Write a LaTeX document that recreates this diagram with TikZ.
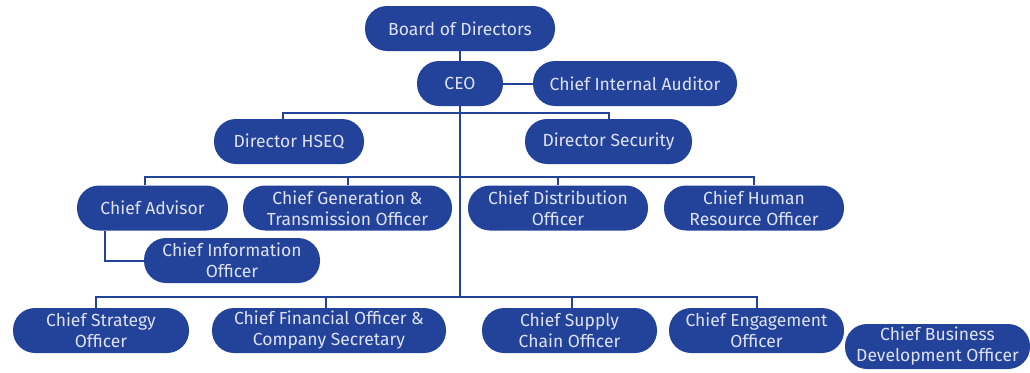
\documentclass[tikz,border=0pt]{standalone}
\usepackage{fontspec}
\setmainfont{Fira Sans}
\usetikzlibrary{positioning}
\definecolor{orgblue}{RGB}{35, 67, 155}
\definecolor{orgtext}{RGB}{222, 226, 240}
\tikzset{
  unit/.style={fill=orgblue, text=orgtext, rounded corners=22pt, minimum height=45pt,
    inner sep=0pt, align=center, font=\fontsize{17.5}{21}\selectfont},
  link/.style={draw=orgblue, line width=2pt}
}
\begin{document}
\begin{tikzpicture}[x=1pt,y=-1pt]
  \useasboundingbox (0,0) rectangle (1030,372);
  % top levels
  \node[unit,minimum width=190pt] (board) at (460,28.5) {Board of Directors};
  \node[unit,minimum width=86pt]  (ceo)   at (460,83.5) {CEO};
  \node[unit,minimum width=204pt] (audit) at (635,83.5) {Chief Internal Auditor};
  \node[unit,minimum width=150pt] (hseq)  at (289,141.5) {Director HSEQ};
  \node[unit,minimum width=167pt] (secur) at (608.5,141.5) {Director Security};
  % third row
  \node[unit,minimum width=151pt] (advis) at (152.5,208) {Chief Advisor};
  \node[unit,minimum width=209pt] (gener) at (347.5,208) {Chief Generation \&\\Transmission Officer};
  \node[unit,minimum width=180pt] (distr) at (558,208) {Chief Distribution\\Officer};
  \node[unit,minimum width=180pt] (human) at (754,208) {Chief Human\\Resource Officer};
  \node[unit,minimum width=176pt] (info)  at (232,260.5) {Chief Information\\Officer};
  % bottom row
  \node[unit,minimum width=176pt] (strat) at (101,330.5) {Chief Strategy\\Officer};
  \node[unit,minimum width=234pt] (finan) at (329,330.5) {Chief Financial Officer \&\\Company Secretary};
  \node[unit,minimum width=175pt] (suppl) at (569.5,330.5) {Chief Supply\\Chain Officer};
  \node[unit,minimum width=175pt] (engag) at (756.5,330.5) {Chief Engagement\\Officer};
  \node[unit,minimum width=185pt] (busin) at (937.5,346.5) {Chief Business\\Development Officer};
  % bus points
  \coordinate (busA) at (460,113);
  \coordinate (busB) at (460,177);
  \coordinate (busC) at (460,297);
  % connectors
  \draw[link] (board) -- (ceo);
  \draw[link] (ceo) -- (audit);
  \draw[link] (ceo.south) -- (busC);
  \draw[link] ([xshift=-6pt]hseq.north) |- (busA) -| (secur.north);
  \draw[link] ([xshift=-8pt]advis.north) |- (busB) -| (human.north);
  \draw[link] (gener.north) -- (gener.north |- busB);
  \draw[link] (distr.north) -- (distr.north |- busB);
  \draw[link] ([xshift=-48pt]advis.south) |- (info.west);
  \draw[link] ([xshift=-5pt]strat.north) |- (busC) -| (engag.north);
  \draw[link] ([xshift=-3pt]finan.north) -- ([xshift=-3pt]finan.north |- busC);
  \draw[link] ([xshift=2.5pt]suppl.north) -- ([xshift=2.5pt]suppl.north |- busC);
\end{tikzpicture}
\end{document}
